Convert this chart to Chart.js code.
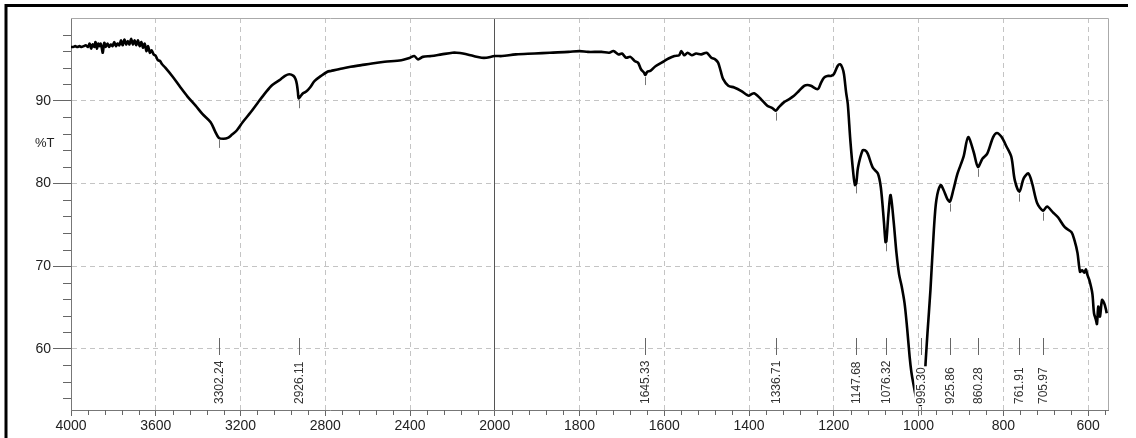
<!DOCTYPE html>
<html lang="en">
<head>
<meta charset="UTF-8">
<title>IR spectrum</title>
<style>
  body { margin: 0; background: #fff; }
  #wrap { width: 1136px; height: 438px; }
</style>
</head>
<body>
<div id="wrap"><canvas id="ir-chart" width="1136" height="438"></canvas></div>
<script src="https://cdn.jsdelivr.net/npm/chart.js"></script>
<script>
// wavenumber (cm-1) and %T
const wavenumbers = [
  4000, 3990, 3980, 3970, 3960, 3950, 3940, 3930, 3920, 3912, 3905, 3898, 3890, 3884, 3878, 3872,
  3866, 3860, 3855, 3850, 3843, 3836, 3828, 3820, 3812, 3804, 3796, 3788, 3780, 3772, 3764, 3756,
  3748, 3740, 3732, 3724, 3716, 3708, 3700, 3692, 3684, 3676, 3668, 3660, 3652, 3644, 3636, 3628,
  3620, 3610, 3600, 3590, 3580, 3570, 3555, 3520, 3483, 3450, 3412, 3380, 3341, 3320, 3302, 3280,
  3260, 3240, 3218, 3190, 3152, 3120, 3081, 3050, 3010, 2990, 2970, 2950, 2940, 2934, 2929, 2926,
  2918, 2905, 2890, 2872, 2850, 2820, 2790, 2773, 2720, 2680, 2630, 2580, 2520, 2441, 2400, 2380,
  2362, 2340, 2300, 2251, 2200, 2180, 2150, 2100, 2062, 2040, 2000, 1983, 1950, 1906, 1870, 1826,
  1800, 1780, 1748, 1730, 1720, 1708, 1700, 1690, 1680, 1670, 1662, 1655, 1648, 1645, 1640, 1633,
  1620, 1600, 1590, 1576, 1565, 1560, 1553, 1545, 1535, 1525, 1513, 1500, 1489, 1480, 1473, 1467,
  1461, 1449, 1435, 1419, 1405, 1400, 1394, 1388, 1380, 1372, 1357, 1345, 1337, 1330, 1318, 1305,
  1294, 1282, 1270, 1262, 1254, 1238, 1230, 1223, 1215, 1207, 1200, 1191, 1185, 1180, 1176, 1171,
  1167, 1161, 1154, 1150, 1147, 1143, 1132, 1126, 1120, 1108, 1096, 1089, 1082, 1078, 1076, 1071,
  1066, 1059, 1052, 1046, 1040, 1033, 1027, 1021, 1017, 1013, 1005, 995, 988, 983, 979, 972,
  964, 958, 948, 941, 932, 926, 918, 908, 894, 883, 870, 860, 849, 838, 824, 815,
  804, 792, 781, 773, 762, 752, 741, 732, 720, 706, 697, 683, 671, 655, 639, 632,
  625, 619, 614, 609, 605, 602, 597, 590, 586, 582, 579, 576, 572, 567, 562, 558, 556
];
const transmittance = [
  96.5, 96.5, 96.6, 96.5, 96.6, 96.5, 96.6, 96.7, 96.5, 96.9, 96.3, 96.8, 96.5, 97.1, 96.3, 96.9,
  96.6, 96.9, 96.4, 95.8, 97.0, 96.5, 96.9, 96.5, 96.8, 96.6, 97.1, 96.6, 96.9, 96.7, 97.3, 96.7,
  97.4, 96.8, 97.2, 96.8, 97.5, 96.8, 97.3, 96.7, 97.3, 96.6, 97.1, 96.4, 96.9, 96.0, 96.6, 95.8,
  96.1, 95.6, 95.4, 94.9, 94.8, 94.4, 94.0, 92.9, 91.6, 90.5, 89.4, 88.4, 87.4, 86.3, 85.5, 85.4,
  85.5, 85.9, 86.4, 87.4, 88.6, 89.7, 91.0, 91.9, 92.6, 93.0, 93.2, 93.0, 92.6, 92.0, 91.0, 90.3,
  90.5, 90.9, 91.1, 91.6, 92.4, 93.0, 93.5, 93.6, 93.9, 94.1, 94.3, 94.5, 94.7, 94.9, 95.2, 95.4,
  95.0, 95.3, 95.4, 95.6, 95.8, 95.8, 95.7, 95.4, 95.2, 95.2, 95.4, 95.4, 95.6, 95.7, 95.8, 95.9,
  96.0, 95.9, 95.9, 95.8, 96.0, 95.6, 95.7, 95.2, 95.3, 94.8, 94.6, 93.8, 93.4, 93.1, 93.5, 93.6,
  94.2, 94.8, 95.1, 95.4, 95.5, 96.0, 95.5, 95.8, 95.5, 95.7, 95.6, 95.8, 95.2, 95.0, 94.6, 93.6,
  92.6, 91.8, 91.6, 91.2, 90.7, 90.6, 90.8, 90.9, 90.6, 90.2, 89.4, 89.1, 88.8, 89.2, 89.8, 90.2,
  90.6, 91.2, 91.8, 91.9, 91.8, 91.4, 92.2, 92.8, 93.0, 93.0, 93.2, 94.2, 94.4, 94.0, 93.2, 91.0,
  89.6, 85.2, 81.2, 79.8, 80.0, 81.9, 84.0, 84.0, 83.6, 81.9, 81.2, 79.5, 75.5, 72.9, 73.0, 76.4,
  78.6, 75.5, 71.5, 69.0, 67.6, 65.5, 62.5, 59.0, 57.2, 56.0, 54.0, 53.2, 54.5, 58.7, 61.9, 67.1,
  74.3, 78.0, 79.8, 79.2, 78.1, 77.8, 79.2, 81.2, 83.2, 85.6, 83.8, 82.0, 83.0, 83.6, 85.6, 86.1,
  85.6, 84.4, 83.2, 80.4, 79.0, 80.6, 81.2, 80.0, 77.6, 76.7, 77.2, 76.5, 75.9, 74.7, 74.1, 73.1,
  71.6, 69.3, 69.5, 69.2, 69.6, 69.0, 68.3, 66.7, 64.3, 63.6, 63.0, 65.1, 63.9, 65.9, 65.5, 64.8, 64.3
];
const xTicks = [4000, 3600, 3200, 2800, 2400, 2000, 1800, 1600, 1400, 1200, 1000, 800, 600];
const yTicks = [60, 70, 80, 90];
const peakLabels = ['3302.24', '2926.11', '1645.33', '1336.71', '1147.68', '1076.32',
  '995.30', '925.86', '860.28', '761.91', '705.97'];

const FONT = "'Liberation Sans', Arial, sans-serif";
Chart.defaults.font.family = FONT;

// x axis: 4000-2000 normal, below 2000 expanded twice
const X_MAX = 4000, X_BREAK = 2000, X_MIN = 553;
function toUnits(v) {
  return v >= X_BREAK ? (X_MAX - v) / 2 : (X_MAX - X_BREAK) / 2 + (X_BREAK - v);
}
const TOTAL_UNITS = toUnits(X_MIN);

class BrokenAxis extends Chart.LinearScale {
  getPixelForValue(value) {
    return this.getPixelForDecimal(toUnits(value) / TOTAL_UNITS);
  }
  getValueForPixel(pixel) {
    const u = this.getDecimalForPixel(pixel) * TOTAL_UNITS;
    const half = (X_MAX - X_BREAK) / 2;
    return u <= half ? X_MAX - u * 2 : X_BREAK - (u - half);
  }
}
BrokenAxis.id = 'brokenAxis';
BrokenAxis.defaults = {};
Chart.register(BrokenAxis);

// minor ticks, frame, peak labels, %T
const irDecor = {
  id: 'irDecor',
  afterDraw(chart) {
    const { ctx, chartArea: a, scales: { x, y } } = chart;
    ctx.save();
    ctx.lineWidth = 1;
    ctx.strokeStyle = '#666';
    ctx.beginPath();
    for (let v = X_MAX; v >= X_MIN; v -= (v > X_BREAK ? 80 : 40)) {
      if (xTicks.includes(v)) continue;
      const px = Math.round(x.getPixelForValue(v)) + 0.5;
      ctx.moveTo(px, a.bottom);
      ctx.lineTo(px, a.bottom + 5);
    }
    for (let v = 54; v <= 98; v += 2) {
      if (v % 10 === 0) continue;
      const py = Math.round(y.getPixelForValue(v)) + 0.5;
      ctx.moveTo(a.left - 8, py);
      ctx.lineTo(a.left, py);
    }
    ctx.stroke();

    // plot frame top / right
    ctx.strokeStyle = '#aaa';
    ctx.beginPath();
    ctx.moveTo(a.left, a.top + 0.5);
    ctx.lineTo(a.right + 0.5, a.top + 0.5);
    ctx.lineTo(a.right + 0.5, a.bottom);
    ctx.stroke();

    // small marks under the picked peaks
    ctx.strokeStyle = '#777';
    ctx.beginPath();
    peakLabels.forEach(lbl => {
      const wn = parseFloat(lbl);
      let best = 0;
      wavenumbers.forEach((w, i) => {
        if (Math.abs(w - wn) < Math.abs(wavenumbers[best] - wn)) best = i;
      });
      const px = Math.round(x.getPixelForValue(wn)) + 0.5;
      const py = y.getPixelForValue(transmittance[best]);
      ctx.moveTo(px, py + 2);
      ctx.lineTo(px, py + 10);
    });
    ctx.stroke();

    // peak labels
    ctx.font = '12px ' + FONT;
    ctx.textBaseline = 'middle';
    ctx.textAlign = 'left';
    peakLabels.forEach(lbl => {
      const px = Math.round(x.getPixelForValue(parseFloat(lbl))) + 0.5;
      ctx.strokeStyle = '#666';
      ctx.beginPath();
      ctx.moveTo(px, a.bottom - 72);
      ctx.lineTo(px, a.bottom - 55);
      ctx.stroke();
      ctx.save();
      ctx.translate(px, a.bottom - 6);
      ctx.rotate(-Math.PI / 2);
      const w = ctx.measureText(lbl).width;
      ctx.fillStyle = '#fff';
      ctx.fillRect(-1, -7, w + 2, 14);
      ctx.fillStyle = '#333';
      ctx.fillText(lbl, 0, 0.5);
      ctx.restore();
    });

    // %T label
    ctx.fillStyle = '#222';
    ctx.font = '13px ' + FONT;
    ctx.fillText('%T', 35, 143);

    // outer black frame
    ctx.strokeStyle = '#000';
    ctx.lineWidth = 3;
    ctx.beginPath();
    ctx.moveTo(6, 440);
    ctx.lineTo(6, 5.5);
    ctx.lineTo(1128, 5.5);
    ctx.stroke();
    ctx.restore();
  }
};

const ctx = document.getElementById('ir-chart').getContext('2d');
new Chart(ctx, {
  type: 'line',
  data: {
    datasets: [{
      data: wavenumbers.map((w, i) => ({ x: w, y: transmittance[i] })),
      borderColor: '#000',
      borderWidth: 2.6,
      pointRadius: 0,
      tension: 0.3,
      fill: false
    }]
  },
  options: {
    responsive: false,
    animation: false,
    layout: { padding: { top: 18, right: 28, left: 0, bottom: 0 } },
    scales: {
      x: {
        type: 'brokenAxis',
        min: X_MIN,
        max: X_MAX,
        afterBuildTicks: axis => { axis.ticks = xTicks.map(v => ({ value: v })); },
        afterFit: axis => { axis.height = 28; },
        ticks: {
          autoSkip: false,
          maxRotation: 0,
          padding: 2,
          color: '#222',
          font: { size: 14 },
          callback: v => String(v)
        },
        grid: {
          color: c => {
            if (!c.tick) return '#c4c4c4';
            if (c.tick.value === X_MAX) return 'rgba(0,0,0,0)';
            if (c.tick.value === X_BREAK) return '#555';
            return '#c4c4c4';
          },
          lineWidth: 1,
          tickLength: 6,
          tickColor: '#666'
        },
        border: {
          color: '#777',
          dash: c => (c.tick && c.tick.value !== X_BREAK ? [5, 4] : [])
        }
      },
      y: {
        min: 52.6,
        max: 100,
        afterBuildTicks: axis => { axis.ticks = yTicks.map(v => ({ value: v })); },
        afterFit: axis => { axis.width = 71; },
        ticks: { padding: 2, color: '#222', font: { size: 14 } },
        grid: { color: '#c4c4c4', lineWidth: 1, tickLength: 18, tickColor: '#666' },
        border: { color: '#777', dash: c => (c.tick ? [5, 4] : []) }
      }
    },
    plugins: {
      legend: { display: false },
      tooltip: { enabled: false }
    }
  },
  plugins: [irDecor]
});
</script>
</body>
</html>
